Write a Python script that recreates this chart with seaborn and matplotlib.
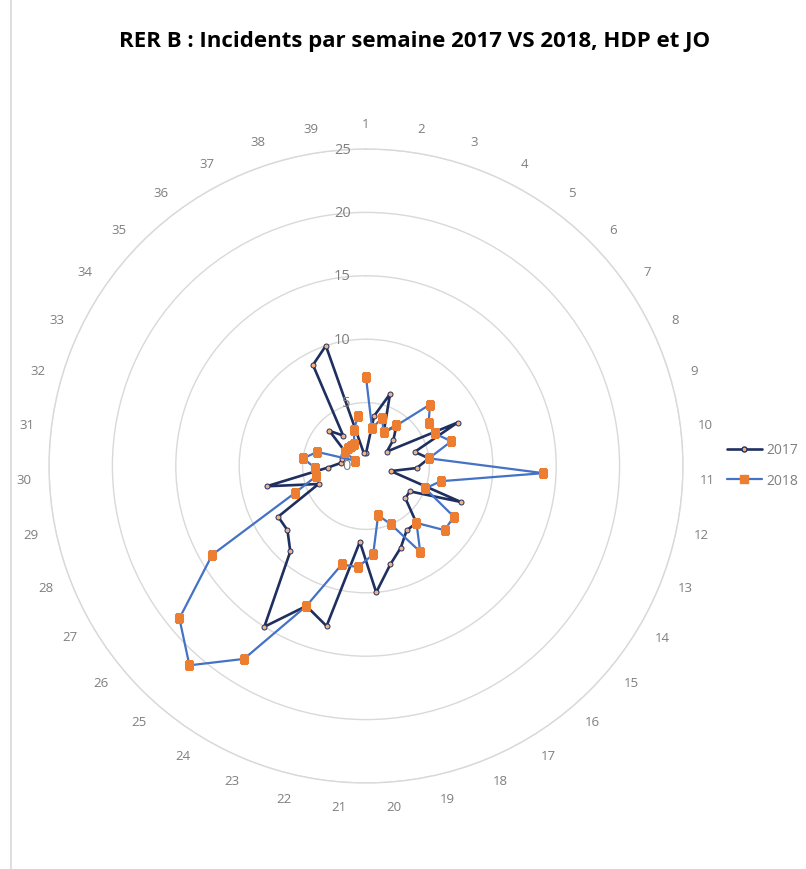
import numpy as np
import pandas as pd
import matplotlib
matplotlib.use("Agg")
import matplotlib.pyplot as plt
import seaborn as sns
from matplotlib.lines import Line2D

# data
weeks = [str(i) for i in range(1, 40)]
incidents_2017 = [1, 4, 6, 3, 4, 3, 2, 8, 4, 5, 4, 2, 8, 4, 4, 6, 6, 7, 8, 10,
                  6, 13, 12, 15, 9, 8, 8, 4, 8, 3, 2, 2, 2, 2, 4, 3, 9, 10, 1]
incidents_2018 = [7, 3, 4, 3, 4, 7, 6, 6, 7, 5, 14, 6, 5, 8, 8, 6, 8, 5, 4, 7,
                  8, 8, 12, 18, 21, 19, 14, 6, 4, 4, 5, 4, 1, 2, 2, 2, 2, 3, 4]
r_ticks = [0, 5, 10, 15, 20, 25]

title = "RER B : Incidents par semaine 2017 VS 2018, HDP et JO"
grey = "#7F7F7F"

sns.set_theme(style="white")
plt.rcParams['font.family'] = ['Open Sans', 'DejaVu Sans']

W, H = 806, 870
fig = plt.figure(figsize=(W / 100, H / 100), dpi=100)

cx, cy, rad = 366, 467, 317
ax = fig.add_axes([(cx - rad) / W, (H - cy - rad) / H, 2 * rad / W, 2 * rad / H],
                  projection='polar')
ax.set_theta_zero_location('N')
ax.set_theta_direction(-1)

n = len(weeks)
theta = np.arange(n) * 2 * np.pi / n


def closed(vals):
    return pd.DataFrame({'theta': np.append(theta, theta[0]),
                         'r': np.append(vals, vals[0])})


sns.lineplot(data=closed(incidents_2018), x='theta', y='r', ax=ax, sort=False,
             color='#4472C4', linewidth=1.6, marker='s', markersize=5.5,
             markerfacecolor='#ED7D31', markeredgecolor='#ED7D31', zorder=3)
sns.lineplot(data=closed(incidents_2017), x='theta', y='r', ax=ax, sort=False,
             color='#1F3060', linewidth=1.9, marker='o', markersize=3.6,
             markerfacecolor='#F4B183', markeredgecolor='#1F3060',
             markeredgewidth=0.7, zorder=2)

ax.set_ylim(0, 25)
ax.set_yticks(r_ticks)
ax.set_yticklabels([])
ax.set_xticks(theta)
ax.set_xticklabels(weeks, color=grey, fontsize=9.5)
ax.tick_params(axis='x', pad=5)
ax.xaxis.grid(False)
ax.yaxis.grid(True, color='#D9D9D9', linewidth=1.0)
ax.spines['polar'].set_color('#D9D9D9')
ax.spines['polar'].set_linewidth(1.0)
ax.set_xlabel('')
ax.set_ylabel('')

for v in r_ticks:
    ax.annotate(str(v), xy=(0, v), xytext=(-11, 0), textcoords='offset points',
                ha='right', va='center', color=grey, fontsize=10.5)

fig.text(415 / W, 1 - 42 / H, title, ha='center', va='center',
         fontsize=16, fontweight='bold', color='black')

handles = [
    Line2D([], [], color='#1F3060', linewidth=1.9, marker='o', markersize=3.6,
           markerfacecolor='#F4B183', markeredgecolor='#1F3060'),
    Line2D([], [], color='#4472C4', linewidth=1.6, marker='s', markersize=5.5,
           markerfacecolor='#ED7D31', markeredgecolor='#ED7D31'),
]
leg = fig.legend(handles, ['2017', '2018'], loc='center left',
                 bbox_to_anchor=(727 / W, 1 - 466 / H), frameon=False,
                 fontsize=10, handlelength=2.5, handletextpad=0.3,
                 labelspacing=1.1, borderpad=0, borderaxespad=0)
for t in leg.get_texts():
    t.set_color(grey)

fig.add_artist(Line2D([11 / W, 11 / W], [0, 1], transform=fig.transFigure,
                      color='#D9D9D9', linewidth=1.2))

fig.savefig('out.png', dpi=100)
